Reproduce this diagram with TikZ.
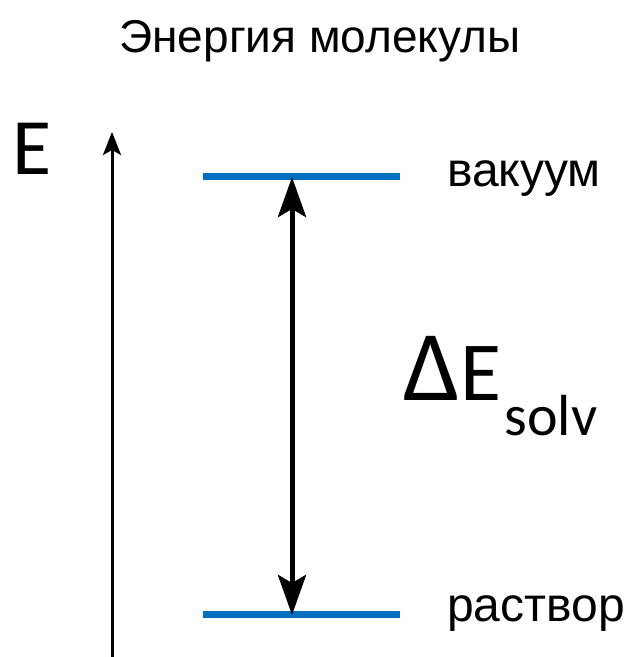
\documentclass[tikz,border=0pt]{standalone}
\usepackage{fontspec}
\setmainfont{Liberation Sans}
\newfontfamily\calib{Carlito}
\usetikzlibrary{arrows.meta}
\definecolor{levelblue}{HTML}{0070C0}
\tikzset{
  lbl/.style={inner sep=0pt, font=\fontsize{48}{52}\selectfont},
  level/.style={draw=levelblue, line width=7pt},
  axisarrow/.style={line width=3pt, -{Stealth[length=23pt, width=18pt, inset=5pt]}},
  deltaarrow/.style={line width=5pt, {Stealth[length=40pt, width=28pt, inset=8pt]}-{Stealth[length=40pt, width=28pt, inset=8pt]}}
}
\begin{document}
\begin{tikzpicture}[x=1pt,y=1pt]
\useasboundingbox (0,0) rectangle (629,657);
% title
\node[lbl, anchor=base, font=\fontsize{46}{50}\selectfont] (title) at (320,604) {Энергия молекулы};
% axis
\coordinate (axbot) at (112,0);
\coordinate (axtop) at (112,525);
\draw[axisarrow] (axbot) -- (axtop);
\node[inner sep=0pt, anchor=base west, font=\fontsize{80}{84}\selectfont\calib] (E) at (12,482) {E};
% levels
\coordinate (vl) at (203,480);
\coordinate (vr) at (400,480);
\coordinate (rl) at (203,42);
\coordinate (rr) at (400,42);
\draw[level] (vl) -- (vr);
\draw[level] (rl) -- (rr);
\coordinate (atop) at (292,480);
\coordinate (abot) at (292,42);
\draw[deltaarrow] (atop) -- (abot);
% labels
\node[lbl, anchor=base west] (vac) at (447,470) {вакуум};
\node[lbl, anchor=base west] (sol) at (447,35) {раствор};
\node[inner sep=0pt, anchor=base west, font=\calib] (dE) at (403,256)
  {{\fontsize{100}{104}\selectfont Δ}\kern1pt{\fontsize{84}{88}\selectfont E}\kern3pt\raisebox{-35pt}{\fontsize{58}{62}\selectfont solv}};
\end{tikzpicture}
\end{document}
